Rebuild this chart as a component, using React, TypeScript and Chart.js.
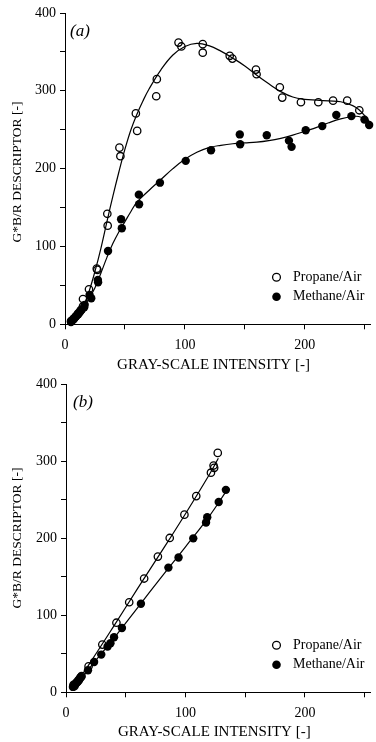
import React, { useEffect, useRef } from 'react';
import { Chart, registerables } from 'chart.js';

Chart.register(...registerables);

type Pt = [number, number];

const FONT = '"Liberation Serif", "DejaVu Serif", "Times New Roman", serif';
const SERIES_NAMES = ['Propane/Air', 'Methane/Air'];
const PANEL_LABELS = ['(a)', '(b)'];
const X_TITLE = 'GRAY-SCALE INTENSITY [-]';
const Y_TITLE = 'G*B/R DESCRIPTOR [-]';
const X_MIN = 0;
const X_MAX = 255;
const Y_MIN = 0;
const Y_MAX = 400;
const X_STEP = 50;
const Y_STEP = 50;
const X_LABELED = [0, 100, 200];
const Y_LABELED = [0, 100, 200, 300, 400];

// Panel (a): measured data
const propaneA: Pt[] = [
  [5, 4], [7, 7], [9, 10], [11, 14], [13, 18], [15, 23], [15, 32.5], [20, 45],
  [26.5, 71.5], [27, 70], [35.3, 142], [35.6, 126.7], [45.4, 227], [46.2, 216],
  [59.1, 271], [60.2, 248.5], [76.6, 315], [76.1, 293], [94.7, 362], [97.1, 357],
  [114.9, 360], [114.9, 349], [137.4, 345], [139.6, 341.4], [159.3, 327.3],
  [159.8, 321.3], [179.2, 304.6], [181.2, 291.3], [196.8, 285.3], [211.3, 285.3],
  [223.6, 287.4], [235.4, 287.4], [245.5, 275],
];
const methaneA: Pt[] = [
  [5, 3], [6, 5], [7, 6], [8, 8], [9, 10], [10, 12], [11, 13], [12, 15], [13, 17],
  [14, 19], [16, 22], [16.4, 25], [20.5, 37.6], [21.9, 33.4], [27.4, 57], [27.6, 54],
  [35.9, 94.2], [46.8, 135], [47.4, 123.4], [61.6, 166.6], [61.8, 154.2],
  [79.2, 182], [100.7, 210], [121.8, 223.6], [145.8, 244], [146.1, 231.3],
  [168.3, 243], [186.8, 236], [189, 228], [200.8, 249.3], [214.6, 254.7],
  [226.3, 269], [238.9, 267.5], [249.8, 263], [253.7, 256],
];
// Panel (a): fitted curves
const propaneFitA: Pt[] = [
  [4, 2], [10, 10], [15, 22], [20, 42], [25, 68], [30, 98], [35, 132], [40, 165],
  [45, 196], [50, 225], [55, 250], [60, 270], [65, 287], [70, 302], [80, 327],
  [90, 346], [100, 357], [110, 361], [120, 358], [130, 351], [140, 342], [150, 332],
  [160, 320], [170, 309], [180, 299], [190, 292], [200, 289], [210, 288],
  [220, 287], [230, 286], [240, 281], [245, 276], [250, 268], [255, 258],
];
const methaneFitA: Pt[] = [
  [4, 2], [10, 11], [15, 21], [20, 33], [25, 47], [30, 66], [35, 86], [40, 104],
  [45, 119], [50, 132], [55, 145], [60, 157], [70, 172], [80, 186], [90, 200],
  [100, 212], [110, 221], [120, 227], [130, 230], [140, 232], [150, 233],
  [160, 234], [170, 236], [180, 239], [190, 243], [200, 248], [210, 253],
  [220, 259], [230, 264], [240, 267], [245, 267], [250, 264], [255, 257],
];

// Panel (b): measured data
const propaneB: Pt[] = [
  [6.3, 9.8], [7, 8], [8, 11], [9, 13], [10, 15], [11, 17], [12, 19], [13, 21],
  [18.9, 33.8], [30.4, 62], [42.2, 90.4], [52.9, 117], [65.4, 147.8], [76.9, 176.3],
  [86.8, 200.5], [99.1, 230.8], [109, 254.9], [121.3, 285.3], [123.5, 294.6],
  [124, 291.6], [127, 311],
];
const methaneB: Pt[] = [
  [5.8, 7], [6.5, 9], [7.5, 10], [8.5, 12], [9.9, 13.6], [11, 16], [12.6, 20],
  [18.4, 28.7], [23.5, 39.3], [29.5, 49], [34.8, 59.5], [37.2, 63.8], [40.2, 71.5],
  [46.8, 83.5], [62.7, 115], [85.7, 162], [94.2, 175.2], [106.5, 200],
  [117.2, 220.6], [118.2, 227.5], [127.8, 247.2], [133.8, 263],
];
// Panel (b): fitted lines
const propaneFitB: Pt[] = [
  [6, 6], [20, 38], [40, 86], [60, 135], [80, 183], [100, 232], [120, 283], [127.5, 304],
];
const methaneFitB: Pt[] = [
  [6, 5], [20, 32], [40, 70], [60, 110], [80, 150], [100, 189], [120, 229], [134, 261],
];

interface PanelCfg {
  label: string;
  propane: Pt[];
  methane: Pt[];
  propaneFit: Pt[];
  methaneFit: Pt[];
  width: number;
  height: number;
  left: number;
  top: number;
  xAxisHeight: number;
  labelX: number;
  labelY: number;
  xTitleX: number;
  xTitleY: number;
  yTitleX: number;
  yTitleY: number;
}

const PANELS: PanelCfg[] = [
  {
    label: PANEL_LABELS[0], propane: propaneA, methane: methaneA,
    propaneFit: propaneFitA, methaneFit: methaneFitA,
    width: 376, height: 372, left: 65, top: 13, xAxisHeight: 47.7,
    labelX: 70, labelY: 32, xTitleX: 213.5, xTitleY: 365.5, yTitleX: 17.5, yTitleY: 172,
  },
  {
    label: PANEL_LABELS[1], propane: propaneB, methane: methaneB,
    propaneFit: propaneFitB, methaneFit: methaneFitB,
    width: 376, height: 370, left: 66, top: 9, xAxisHeight: 49.7,
    labelX: 73, labelY: 31, xTitleX: 214.3, xTitleY: 359.7, yTitleX: 17.5, yTitleY: 166,
  },
];

const toXY = (pts: Pt[]) => pts.map(([x, y]) => ({ x, y }));

const overlayPlugin = {
  id: 'overlay',
  afterDatasetsDraw(chart: any, _args: any, opts: any) {
    const { ctx, chartArea } = chart;
    ctx.save();
    ctx.fillStyle = '#000';
    ctx.strokeStyle = '#000';
    ctx.textBaseline = 'middle';
    ctx.textAlign = 'left';
    ctx.font = `italic 17px ${FONT}`;
    ctx.fillText(opts.label, opts.labelX, opts.labelY);

    // axis titles
    ctx.textAlign = 'center';
    ctx.font = `15px ${FONT}`;
    ctx.fillText(X_TITLE, opts.xTitleX, opts.xTitleY);
    ctx.save();
    ctx.translate(opts.yTitleX, opts.yTitleY);
    ctx.rotate(-Math.PI / 2);
    ctx.font = `13.5px ${FONT}`;
    ctx.fillText(Y_TITLE, 0, 0);
    ctx.restore();

    // legend
    ctx.textAlign = 'left';
    ctx.font = `14px ${FONT}`;
    const mx = 276.5;
    const tx = 293;
    const rows = [chartArea.bottom - 47, chartArea.bottom - 27.5];
    ctx.lineWidth = 1.3;
    ctx.beginPath();
    ctx.arc(mx, rows[0], 3.9, 0, Math.PI * 2);
    ctx.stroke();
    ctx.fillText(SERIES_NAMES[0], tx, rows[0]);
    ctx.beginPath();
    ctx.arc(mx, rows[1], 4.3, 0, Math.PI * 2);
    ctx.fill();
    ctx.fillText(SERIES_NAMES[1], tx, rows[1]);
    ctx.restore();
  },
};

function Panel({ cfg }: { cfg: PanelCfg }) {
  const ref = useRef<HTMLCanvasElement | null>(null);
  useEffect(() => {
    if (!ref.current) return;
    const lineStyle = {
      showLine: true,
      pointRadius: 0,
      pointHoverRadius: 0,
      borderColor: '#000',
      borderWidth: 1.2,
      tension: 0.4,
      fill: false,
      clip: false as any,
    };
    const chart = new Chart(ref.current, {
      type: 'scatter',
      data: {
        datasets: [
          { label: SERIES_NAMES[0] + ' fit', data: toXY(cfg.propaneFit), ...lineStyle, order: 1 },
          { label: SERIES_NAMES[1] + ' fit', data: toXY(cfg.methaneFit), ...lineStyle, order: 1 },
          {
            label: SERIES_NAMES[0], data: toXY(cfg.propane), showLine: false,
            pointRadius: 3.7, pointBackgroundColor: 'rgba(0,0,0,0)', pointBorderColor: '#000',
            pointBorderWidth: 1.3, clip: false as any, order: 2,
          },
          {
            label: SERIES_NAMES[1], data: toXY(cfg.methane), showLine: false,
            pointRadius: 4.2, pointBackgroundColor: '#000', pointBorderColor: '#000',
            pointBorderWidth: 0, clip: false as any, order: 2,
          },
        ],
      },
      options: {
        animation: false,
        responsive: false,
        devicePixelRatio: 1,
        layout: { padding: { left: 0, right: 0, top: cfg.top, bottom: 0 } },
        plugins: {
          legend: { display: false },
          tooltip: { enabled: false },
          overlay: {
            label: cfg.label, labelX: cfg.labelX, labelY: cfg.labelY,
            xTitleX: cfg.xTitleX, xTitleY: cfg.xTitleY, yTitleX: cfg.yTitleX, yTitleY: cfg.yTitleY,
          },
        } as any,
        scales: {
          x: {
            type: 'linear',
            min: X_MIN,
            max: X_MAX,
            afterFit: (s: any) => { s.height = cfg.xAxisHeight; },
            ticks: {
              stepSize: X_STEP,
              includeBounds: false,
              autoSkip: false,
              maxRotation: 0,
              color: '#000',
              padding: 8,
              font: { family: FONT, size: 14 },
              callback: (v: any) => (X_LABELED.includes(Number(v)) ? String(v) : ''),
            },
            grid: { display: true, drawOnChartArea: false, drawTicks: true, tickLength: 5, color: '#000', lineWidth: 1 },
            border: { display: true, color: '#000', width: 1 },
          },
          y: {
            type: 'linear',
            min: Y_MIN,
            max: Y_MAX,
            afterFit: (s: any) => { s.width = cfg.left; },
            ticks: {
              stepSize: Y_STEP,
              autoSkip: false,
              color: '#000',
              padding: 4,
              font: { family: FONT, size: 14 },
              callback: (v: any) => (Y_LABELED.includes(Number(v)) ? String(v) : ''),
            },
            grid: { display: true, drawOnChartArea: false, drawTicks: true, tickLength: 5, color: '#000', lineWidth: 1 },
            border: { display: true, color: '#000', width: 1 },
          },
        },
      },
      plugins: [overlayPlugin],
    } as any);
    return () => chart.destroy();
  }, [cfg]);
  return (
    <canvas
      ref={ref}
      width={cfg.width}
      height={cfg.height}
      style={{ display: 'block', width: cfg.width, height: cfg.height }}
    />
  );
}

export default function App() {
  useEffect(() => {
    document.body.style.margin = '0';
  }, []);
  return (
    <div style={{ width: 376, height: 742, background: '#fff', overflow: 'hidden' }}>
      {PANELS.map((p) => (
        <Panel key={p.label} cfg={p} />
      ))}
    </div>
  );
}
